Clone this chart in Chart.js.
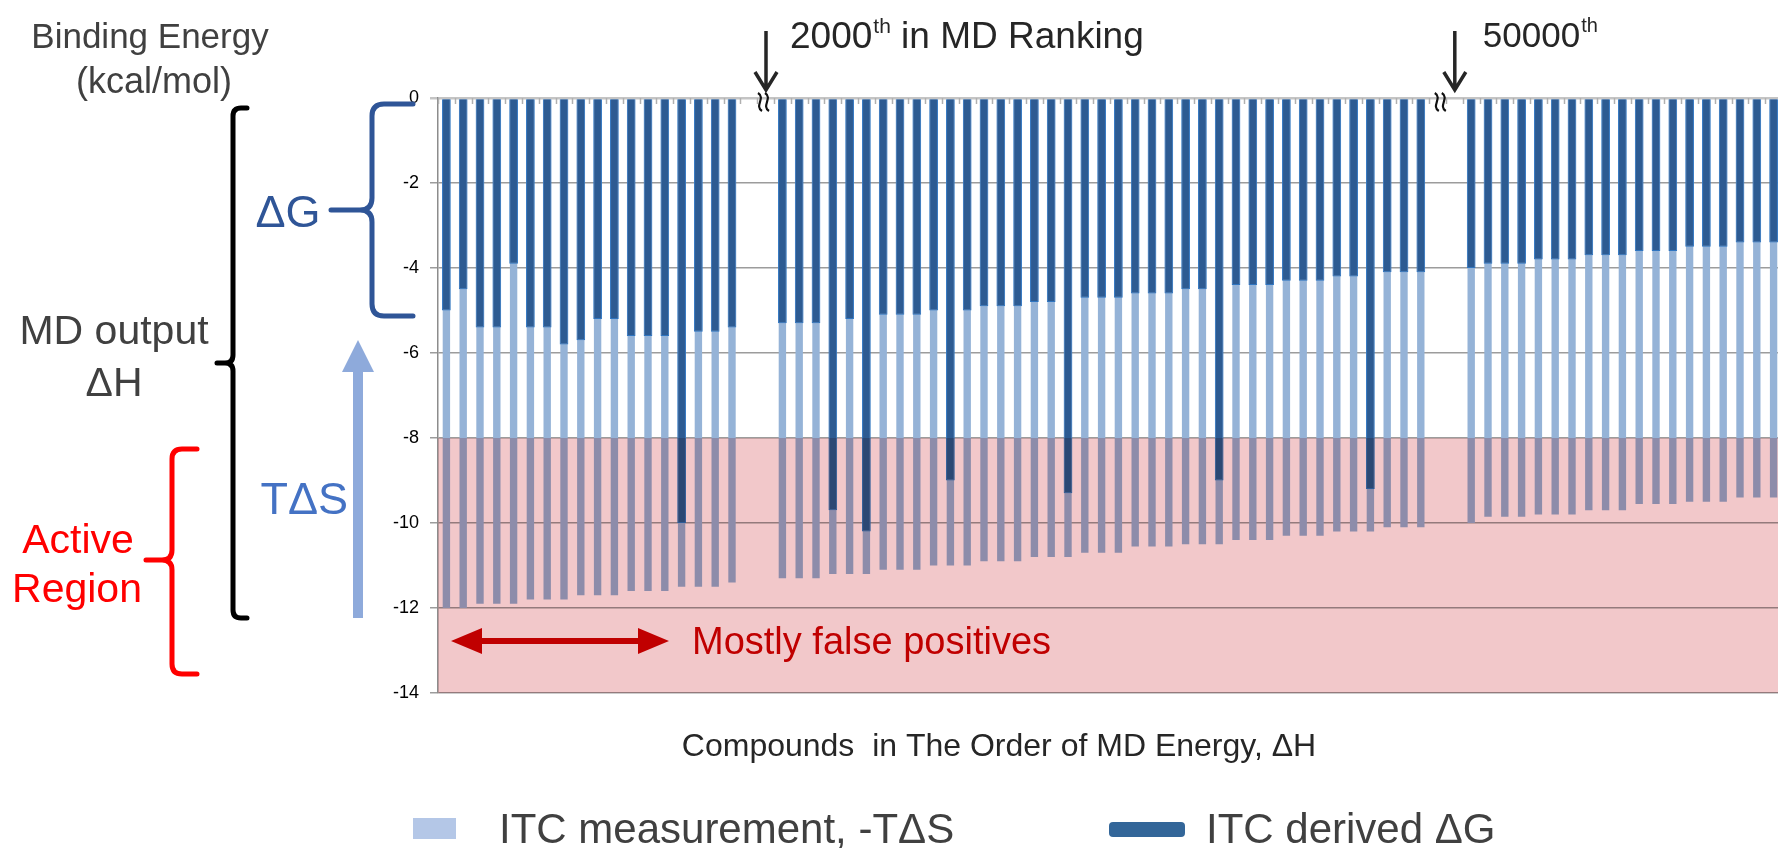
<!DOCTYPE html>
<html>
<head>
<meta charset="utf-8">
<title>Binding Energy in the Order of MD Ranking</title>
<script src="https://cdn.jsdelivr.net/npm/chart.js@4.4.1/dist/chart.umd.min.js"></script>
<style>
  html, body { margin: 0; padding: 0; background: #fff; overflow: hidden; }
  #wrap { position: relative; width: 1782px; height: 848px; }
</style>
</head>
<body>
<div id="wrap"><canvas id="energyChart" width="1782" height="848"></canvas></div>
<script>
// ITC derived dG and MD output dH (kcal/mol), three slices of the MD ranking
const group1DeltaG = [-5.0, -4.5, -5.4, -5.4, -3.9, -5.4, -5.4, -5.8, -5.7, -5.2, -5.2, -5.6, -5.6, -5.6, -10.0, -5.5, -5.5, -5.4];
const group1DeltaH = [-12.0, -12.0, -11.9, -11.9, -11.9, -11.8, -11.8, -11.8, -11.7, -11.7, -11.7, -11.6, -11.6, -11.6, -11.5, -11.5, -11.5, -11.4];

const group2DeltaG = [-5.3, -5.3, -5.3, -9.7, -5.2, -10.2, -5.1, -5.1, -5.1, -5.0, -9.0, -5.0, -4.9, -4.9, -4.9,
  -4.8, -4.8, -9.3, -4.7, -4.7, -4.7, -4.6, -4.6, -4.6, -4.5, -4.5, -9.0, -4.4, -4.4, -4.4,
  -4.3, -4.3, -4.3, -4.2, -4.2, -9.2, -4.1, -4.1, -4.1];
const group2DeltaH = [-11.3, -11.3, -11.3, -11.2, -11.2, -11.2, -11.1, -11.1, -11.1, -11.0, -11.0, -11.0, -10.9, -10.9, -10.9,
  -10.8, -10.8, -10.8, -10.7, -10.7, -10.7, -10.55, -10.55, -10.55, -10.5, -10.5, -10.5, -10.4, -10.4, -10.4,
  -10.3, -10.3, -10.3, -10.2, -10.2, -10.2, -10.1, -10.1, -10.1];

const group3DeltaG = [-4.0, -3.9, -3.9, -3.9, -3.8, -3.8, -3.8, -3.7, -3.7, -3.7, -3.6, -3.6, -3.6, -3.5, -3.5, -3.5, -3.4, -3.4, -3.4];
const group3DeltaH = [-10.0, -9.85, -9.85, -9.85, -9.8, -9.8, -9.8, -9.7, -9.7, -9.7, -9.55, -9.55, -9.55, -9.5, -9.5, -9.5, -9.4, -9.4, -9.4];

const gapSize = 2;            // empty slots where the ranking is cut
const yRange = [-14, 0];
const yStep = 2;
const activeRegion = [-8, -14];

const FONT = '"Liberation Sans", Arial, sans-serif';

// build the full series with gaps between the slices
const gap = new Array(gapSize).fill(null);
const deltaG = [...group1DeltaG, ...gap, ...group2DeltaG, ...gap, ...group3DeltaG];
const deltaH = [...group1DeltaH, ...gap, ...group2DeltaH, ...gap, ...group3DeltaH];
const compounds = deltaG.map((_, i) => 'Compound ' + (i + 1));
const group2Start = group1DeltaG.length + gapSize;
const group3Start = group2Start + group2DeltaG.length + gapSize;

function drawText(ctx, str, x, y, size, color, align) {
    ctx.font = size + 'px ' + FONT;
    ctx.fillStyle = color;
    ctx.textAlign = align || 'left';
    ctx.textBaseline = 'alphabetic';
    ctx.fillText(str, x, y);
}

// "2000th in ..." with a raised "th"
function drawOrdinal(ctx, num, rest, x, y, size) {
    drawText(ctx, num, x, y, size, '#262626');
    const w = ctx.measureText(num).width;
    drawText(ctx, 'th', x + w + 1, y - 15, Math.round(size * 0.57), '#262626');
    const w2 = ctx.measureText('th').width;
    if (rest) drawText(ctx, rest, x + w + 1 + w2, y, size, '#262626');
}

function brace(ctx, x, top, bottom, mid, tipX, endX, color, width, r) {
    ctx.save();
    ctx.strokeStyle = color;
    ctx.lineWidth = width;
    ctx.lineCap = 'round';
    ctx.lineJoin = 'round';
    ctx.beginPath();
    ctx.moveTo(endX, top);
    ctx.lineTo(x + r, top);
    ctx.quadraticCurveTo(x, top, x, top + r);
    ctx.lineTo(x, mid - r);
    ctx.quadraticCurveTo(x, mid, x - r, mid);
    ctx.lineTo(tipX, mid);
    ctx.moveTo(x - r, mid);
    ctx.quadraticCurveTo(x, mid, x, mid + r);
    ctx.lineTo(x, bottom - r);
    ctx.quadraticCurveTo(x, bottom, x + r, bottom);
    ctx.lineTo(endX, bottom);
    ctx.stroke();
    ctx.restore();
}

function downArrow(ctx, x, top, tip) {
    ctx.save();
    ctx.strokeStyle = '#262626';
    ctx.lineWidth = 3.5;
    ctx.beginPath();
    ctx.moveTo(x, top);
    ctx.lineTo(x, tip - 2);
    ctx.moveTo(x - 11, tip - 18);
    ctx.lineTo(x, tip);
    ctx.lineTo(x + 11, tip - 18);
    ctx.stroke();
    ctx.restore();
}

function breakMark(ctx, x, y) {
    ctx.save();
    ctx.strokeStyle = '#111';
    ctx.lineWidth = 2.2;
    [0, 7].forEach(dx => {
        ctx.beginPath();
        ctx.moveTo(x + dx - 2, y - 9);
        ctx.bezierCurveTo(x + dx + 6, y - 4, x + dx - 6, y + 4, x + dx + 2, y + 9);
        ctx.stroke();
    });
    ctx.restore();
}

// pink "active region" laid over the bars with a multiply blend
const activeRegionPlugin = {
    id: 'activeRegion',
    afterDatasetsDraw(chart) {
        const { ctx, chartArea, scales } = chart;
        const top = scales.y.getPixelForValue(activeRegion[0]);
        const bottom = scales.y.getPixelForValue(activeRegion[1]);
        ctx.save();
        ctx.globalCompositeOperation = 'multiply';
        ctx.fillStyle = '#f2c8ca';
        ctx.fillRect(chartArea.left, top, chartArea.right - chartArea.left, bottom - top);
        ctx.restore();
    }
};

// annotations, category ticks and legend
const annotationPlugin = {
    id: 'annotations',
    afterDraw(chart) {
        const { ctx, chartArea, scales } = chart;
        const x = scales.x, y = scales.y;
        const catW = (chartArea.right - chartArea.left) / compounds.length;
        const y0 = y.getPixelForValue(0);

        // small category ticks under the zero line
        ctx.save();
        ctx.strokeStyle = '#b0b0b0';
        ctx.lineWidth = 1.5;
        for (let i = 0; i <= compounds.length; i++) {
            const xb = Math.round(chartArea.left + i * catW) + 0.5;
            ctx.beginPath();
            ctx.moveTo(xb, y0);
            ctx.lineTo(xb, y0 + 6);
            ctx.stroke();
        }
        ctx.restore();

        // cuts in the ranking
        const cut2 = x.getPixelForValue(group2Start) - catW / 2;
        const cut3 = x.getPixelForValue(group3Start) - catW / 2;
        breakMark(ctx, cut2 - 14, y0 + 4);
        breakMark(ctx, cut3 - 26, y0 + 4);
        downArrow(ctx, cut2 - 8, 31, 90);
        downArrow(ctx, cut3 - 8, 31, 90);
        drawOrdinal(ctx, '2000', ' in MD Ranking', cut2 + 16, 48, 37);
        drawOrdinal(ctx, '50000', '', cut3 + 20, 47, 35);

        // y axis title
        drawText(ctx, 'Binding Energy', 150, 48, 35, '#404040', 'center');
        drawText(ctx, '(kcal/mol)', 154, 93, 36, '#404040', 'center');

        // MD output bracket
        brace(ctx, 233, 108, 618, 363, 217, 247, '#000', 5, 8);
        drawText(ctx, 'MD output', 114, 344, 41, '#404040', 'center');
        drawText(ctx, '\u0394H', 114, 396, 41, '#404040', 'center');

        // dG bracket
        brace(ctx, 372, 104, 316, 210, 331, 413, '#2f5597', 5, 12);
        drawText(ctx, '\u0394G', 288, 227, 45, '#2f5597', 'center');

        // TdS arrow
        ctx.save();
        ctx.fillStyle = '#8eaadb';
        ctx.fillRect(353, 370, 10, 248);
        ctx.beginPath();
        ctx.moveTo(342, 372);
        ctx.lineTo(358, 340);
        ctx.lineTo(374, 372);
        ctx.closePath();
        ctx.fill();
        ctx.restore();
        drawText(ctx, 'T\u0394S', 348, 514, 45, '#4472c4', 'right');

        // active region bracket
        brace(ctx, 172, 449, 674, 560, 146, 197, '#ff0000', 5, 10);
        drawText(ctx, 'Active', 78, 553, 41, '#ff0000', 'center');
        drawText(ctx, 'Region', 77, 602, 41, '#ff0000', 'center');

        // false positives double arrow
        ctx.save();
        ctx.fillStyle = '#c00000';
        ctx.fillRect(476, 638, 168, 6);
        ctx.beginPath();
        ctx.moveTo(451, 641); ctx.lineTo(482, 628); ctx.lineTo(482, 654); ctx.closePath();
        ctx.moveTo(669, 641); ctx.lineTo(638, 628); ctx.lineTo(638, 654); ctx.closePath();
        ctx.fill();
        ctx.restore();
        drawText(ctx, 'Mostly false positives', 692, 654, 38, '#c00000');

        // x axis title
        drawText(ctx, 'Compounds  in The Order of MD Energy, \u0394H', 999, 756, 32, '#262626', 'center');

        // legend
        ctx.save();
        ctx.fillStyle = '#b4c7e7';
        ctx.fillRect(413, 818, 43, 21);
        ctx.fillStyle = '#336699';
        ctx.beginPath();
        ctx.roundRect(1109, 822, 76, 15, 4);
        ctx.fill();
        ctx.restore();
        drawText(ctx, 'ITC measurement, -T\u0394S', 499, 843, 42, '#404040');
        drawText(ctx, 'ITC derived \u0394G', 1206, 843, 42, '#404040');
    }
};

new Chart(document.getElementById('energyChart'), {
    type: 'bar',
    data: {
        labels: compounds,
        datasets: [
            {
                label: 'ITC measurement, -T\u0394S',
                data: deltaH,
                backgroundColor: '#95b3d7',
                borderWidth: 0,
                barPercentage: 0.44,
                categoryPercentage: 1,
                order: 2
            },
            {
                label: 'ITC derived \u0394G',
                data: deltaG,
                backgroundColor: '#2d5b92',
                borderColor: '#2f75c0',
                borderWidth: 1,
                barPercentage: 0.52,
                categoryPercentage: 1,
                order: 1
            }
        ]
    },
    options: {
        responsive: false,
        animation: false,
        layout: { padding: { left: 0, right: 0, top: 98, bottom: 155 } },
        plugins: {
            legend: { display: false },
            tooltip: { enabled: false }
        },
        scales: {
            x: {
                stacked: true,
                display: false
            },
            y: {
                stacked: false,
                min: yRange[0],
                max: yRange[1],
                afterFit(scale) { scale.width = 438; },
                ticks: {
                    stepSize: yStep,
                    padding: 11,
                    color: '#000',
                    font: { family: FONT, size: 18 }
                },
                grid: {
                    color: ctx => (ctx.tick && ctx.tick.value === 0) ? '#c4c4c4' : '#9c9c9c',
                    lineWidth: ctx => (ctx.tick && ctx.tick.value === 0) ? 2.5 : 1.5,
                    tickLength: 8
                },
                border: { color: '#8c8c8c', width: 1.5 }
            }
        }
    },
    plugins: [activeRegionPlugin, annotationPlugin]
});
</script>
</body>
</html>
